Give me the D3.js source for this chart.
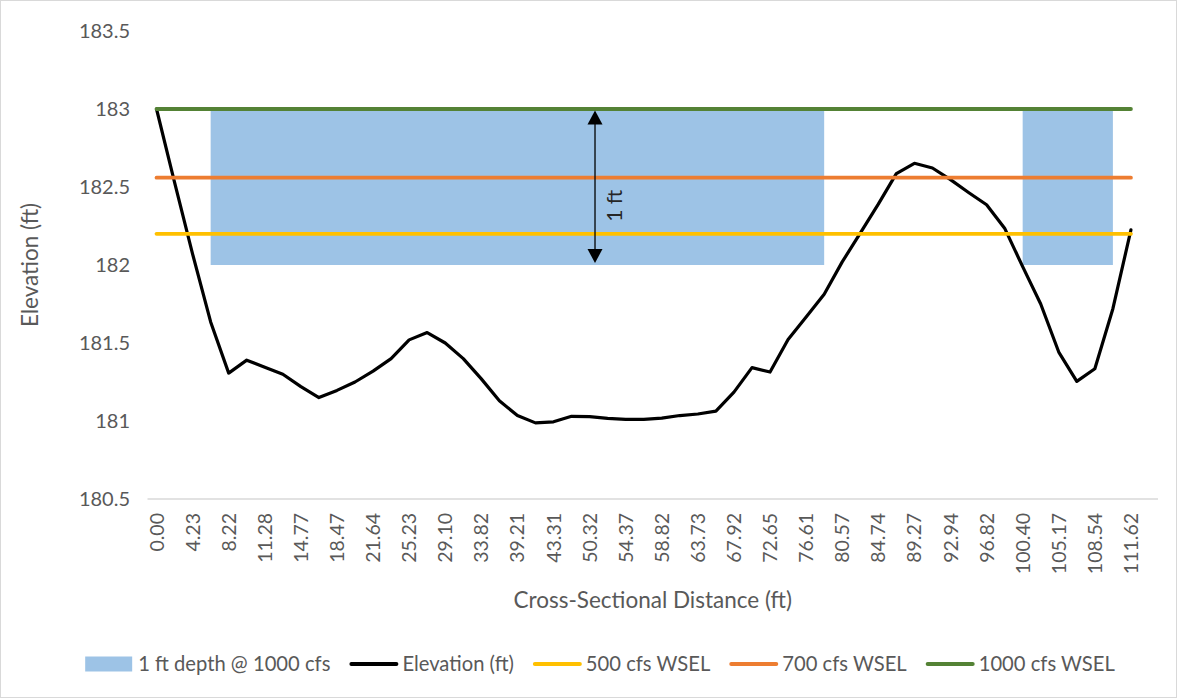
<!DOCTYPE html>
<html>
<head>
<meta charset="utf-8">
<script src="https://cdn.jsdelivr.net/npm/d3@7"></script>
<style>
  body { margin: 0; background: #fff; }
  svg { display: block; }
  text { font-family: Lato, "Open Sans", sans-serif; }
</style>
</head>
<body>
<svg id="chart" width="1177" height="698"></svg>
<script>
// Cross-section survey: labels shown on every other station
const distanceLabels = ["0.00", "4.23", "8.22", "11.28", "14.77", "18.47", "21.64", "25.23",
  "29.10", "33.82", "39.21", "43.31", "50.32", "54.37", "58.82", "63.73", "67.92", "72.65",
  "76.61", "80.57", "84.74", "89.27", "92.94", "96.82", "100.40", "105.17", "108.54", "111.62"];

// Ground elevation (ft) at each station
const elevation = [
  183.00, 182.53, 182.07, 181.635, 181.307, 181.39, 181.345, 181.30, 181.22, 181.15,
  181.196, 181.25, 181.32, 181.40, 181.52, 181.567, 181.50, 181.40, 181.27, 181.13,
  181.035, 180.988, 180.995, 181.03, 181.028, 181.017, 181.01, 181.01, 181.018, 181.035,
  181.045, 181.063, 181.185, 181.342, 181.314, 181.522, 181.667, 181.813, 182.02, 182.204,
  182.39, 182.586, 182.652, 182.622, 182.547, 182.465, 182.386, 182.236, 181.99, 181.75,
  181.442, 181.254, 181.335, 181.72, 182.225
];

// Band of at least 1 ft depth below the 1000 cfs water surface (null = not reached)
const depth1000 = [
  null, null, null, 1, 1, 1, 1, 1, 1, 1,
  1, 1, 1, 1, 1, 1, 1, 1, 1, 1,
  1, 1, 1, 1, 1, 1, 1, 1, 1, 1,
  1, 1, 1, 1, 1, 1, 1, 1, null, null,
  null, null, null, null, null, null, null, null, 1, 1,
  1, 1, 1, 1, null
];

// Water surface elevations (ft)
const wselNames = ["500 cfs WSEL", "700 cfs WSEL", "1000 cfs WSEL"];
const wselValues = [182.2, 182.56, 183.0];

const yTicks = [180.5, 181, 181.5, 182, 182.5, 183, 183.5];
const depthLegend = "1 ft depth @ 1000 cfs";
const elevationLegend = "Elevation (ft)";

// ---- layout & style ----
const W = 1177, H = 698;
const plot = { left: 147.5, right: 1158, top: 31, bottom: 499 };
const colors = { depth: "#9DC3E6", elev: "#000000", wsel: ["#FFC000", "#ED7D31", "#548235"] };
const textGray = "#595959";

const svg = d3.select("#chart");

svg.append("rect")
  .attr("x", 0.5).attr("y", 0.5).attr("width", W - 1).attr("height", H - 1)
  .attr("fill", "#fff").attr("stroke", "#D9D9D9").attr("stroke-width", 1);

// one slot per station, plus a trailing empty slot
const x = d3.scaleBand().domain(d3.range(elevation.length + 1))
  .range([plot.left, plot.right]).padding(0);
const cx = i => x(i) + x.bandwidth() / 2;
const y = d3.scaleLinear().domain([180.5, 183.5]).range([plot.bottom, plot.top]);

const wsel1000 = wselValues[2];

// depth band
const depthArea = d3.area()
  .defined(d => d.v != null)
  .x(d => cx(d.i))
  .y0(d => y(wsel1000 - d.v))
  .y1(() => y(wsel1000));
svg.append("path")
  .datum(depth1000.map((v, i) => ({ i, v })))
  .attr("d", depthArea)
  .attr("fill", colors.depth);

// x axis line
svg.append("line")
  .attr("x1", plot.left).attr("x2", plot.right)
  .attr("y1", plot.bottom).attr("y2", plot.bottom)
  .attr("stroke", "#D9D9D9").attr("stroke-width", 1.3);

// y tick labels
svg.append("g").selectAll("text").data(yTicks).join("text")
  .attr("x", 130).attr("y", d => y(d)).attr("dy", "0.36em")
  .attr("text-anchor", "end")
  .attr("font-size", 20).attr("fill", textGray)
  .text(d => String(d));

// x tick labels (every second station)
svg.append("g").selectAll("text").data(distanceLabels).join("text")
  .attr("transform", (d, k) => `translate(${cx(k * 2)},513) rotate(-90)`)
  .attr("dy", "0.36em")
  .attr("text-anchor", "end")
  .attr("font-size", 19.5).attr("fill", textGray)
  .text(d => d);

// ground profile
const line = d3.line().x((d, i) => cx(i)).y(d => y(d));
svg.append("path")
  .datum(elevation)
  .attr("d", line)
  .attr("fill", "none")
  .attr("stroke", colors.elev)
  .attr("stroke-width", 3.2)
  .attr("stroke-linejoin", "round")
  .attr("stroke-linecap", "round");

// water surface lines
wselValues.forEach((v, k) => {
  svg.append("path")
    .datum(elevation.map(() => v))
    .attr("d", line)
    .attr("fill", "none")
    .attr("stroke", colors.wsel[k])
    .attr("stroke-width", 3.8)
    .attr("stroke-linecap", "round");
});

// 1 ft dimension arrow
const arrowAt = 24.3;
const ax = cx(0) + arrowAt * x.step();
const aTop = y(wsel1000) + 1.5, aBot = y(wsel1000 - 1) - 2;
const ann = svg.append("g");
ann.append("line")
  .attr("x1", ax).attr("x2", ax).attr("y1", aTop + 8).attr("y2", aBot - 8)
  .attr("stroke", "#000").attr("stroke-width", 1.3);
ann.append("path")
  .attr("d", `M${ax},${aTop} L${ax - 7.5},${aTop + 14} L${ax + 7.5},${aTop + 14} Z`)
  .attr("fill", "#000");
ann.append("path")
  .attr("d", `M${ax},${aBot} L${ax - 7.5},${aBot - 14} L${ax + 7.5},${aBot - 14} Z`)
  .attr("fill", "#000");
ann.append("text")
  .attr("transform", `translate(${ax + 20},${y(182.38)}) rotate(-90)`)
  .attr("text-anchor", "middle").attr("dy", "0.35em")
  .attr("font-family", "'Liberation Serif', serif")
  .attr("font-size", 21).attr("fill", "#262626")
  .text("1 ft");

// axis titles
svg.append("text")
  .attr("transform", `translate(30,${(plot.top + plot.bottom) / 2}) rotate(-90)`)
  .attr("text-anchor", "middle").attr("dy", "0.35em")
  .attr("font-size", 22.5).attr("fill", textGray)
  .text("Elevation (ft)");
svg.append("text")
  .attr("x", (plot.left + plot.right) / 2).attr("y", 600).attr("dy", "0.35em")
  .attr("text-anchor", "middle")
  .attr("font-size", 22.5).attr("fill", textGray)
  .text("Cross-Sectional Distance (ft)");

// legend
const legendItems = [
  { name: depthLegend, type: "rect", color: colors.depth },
  { name: elevationLegend, type: "line", color: colors.elev },
  ...wselNames.map((n, k) => ({ name: n, type: "line", color: colors.wsel[k] }))
];
const legend = svg.append("g");
const ly = 664;
let lx = 0;
legendItems.forEach(it => {
  const g = legend.append("g").attr("transform", `translate(${lx},0)`);
  if (it.type === "rect") {
    g.append("rect").attr("x", 0).attr("y", ly - 7.5).attr("width", 47).attr("height", 15)
      .attr("fill", it.color);
  } else {
    g.append("line").attr("x1", 2).attr("x2", 47).attr("y1", ly).attr("y2", ly)
      .attr("stroke", it.color).attr("stroke-width", 4).attr("stroke-linecap", "round");
  }
  const t = g.append("text").attr("x", 53).attr("y", ly).attr("dy", "0.35em")
    .attr("font-size", 20.2).attr("fill", textGray).text(it.name);
  lx += 53 + t.node().getComputedTextLength() + 19;
});
const legendW = lx - 19;
legend.attr("transform", `translate(${600 - legendW / 2},0)`);
</script>
</body>
</html>
